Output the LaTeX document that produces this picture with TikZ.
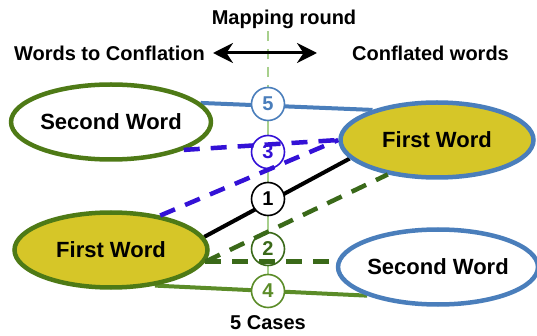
\documentclass[tikz,border=0pt]{standalone}
\usepackage{fontspec}
\setmainfont{Liberation Sans}
\usetikzlibrary{shapes.geometric,arrows.meta,backgrounds}
\definecolor{wgreen}{RGB}{78,122,22}
\definecolor{wblue}{RGB}{74,126,187}
\definecolor{wyellow}{RGB}{214,198,40}
\definecolor{wpurple}{RGB}{51,17,214}
\definecolor{dgreen}{RGB}{58,105,25}
\definecolor{lgreen}{RGB}{91,140,40}
\definecolor{vgreen}{RGB}{168,208,141}

\begin{document}
\begin{tikzpicture}[x=1pt,y=-1pt,
   word/.style={ellipse,line width=4.5pt,minimum width=193pt,minimum height=75pt,inner sep=0pt,font=\fontsize{22}{24}\selectfont\bfseries},
   case/.style={circle,draw=#1,text=#1,fill=white,line width=1.6pt,minimum size=33pt,inner sep=0pt,font=\fontsize{20}{22}\selectfont\bfseries},
   head/.style={inner sep=0pt,font=\fontsize{20}{22}\selectfont\bfseries},
   link/.style={line width=4pt},
   dlink/.style={line width=4.5pt,dash pattern=on 16pt off 11pt}]
   \useasboundingbox (0,0) rectangle (537,336);

   \node[head] (map) at (284,19) {Mapping round};
   \node[head,anchor=east] (wtc) at (205,53) {Words to Conflation};
   \node[head,anchor=west] (cw) at (352,53) {Conflated words};
   \coordinate (al) at (213,53);
   \coordinate (ar) at (317,53);
   \draw[{Stealth[length=20pt,width=20pt]}-{Stealth[length=20pt,width=20pt]},line width=3pt] (al) -- (ar);

   \node[word,draw=wgreen,fill=white] (lsec) at (111,122) {Second Word};
   \node[word,draw=wgreen,fill=wyellow] (lfir) at (111,250) {First Word};
   \node[word,draw=wblue,fill=wyellow] (rfir) at (437,140) {First Word};
   \node[word,draw=wblue,fill=white] (rsec) at (438,267) {Second Word};

   \node[case=wblue] (c5) at (268,104) {5};
   \node[case=wpurple] (c3) at (268,152) {3};
   \node[case=black] (c1) at (268,199) {1};
   \node[case=dgreen] (c2) at (268,249) {2};
   \node[case=lgreen] (c4) at (268,291) {4};
   \node[head] (cases) at (268,323) {5 Cases};

   \coordinate (vtop) at (268,31);
   \begin{scope}[on background layer]
     \draw[vgreen,line width=2.5pt,dash pattern=on 10pt off 8pt] (vtop) -- (c5);
     \draw[vgreen,line width=1.5pt] (c5) -- (c4);
     \draw[link,wblue] (lsec.12) -- (rfir.155);
     \draw[link,black] (lfir.8) -- (rfir.192);
     \draw[link,lgreen] (lfir.-39) -- (rsec.202);
   \end{scope}

   \draw[dlink,wpurple] (lsec.-21) -- (rfir.west);
   \draw[dlink,wpurple] (lfir.35) -- (rfir.west);
   \draw[dlink,dgreen] (lfir.-7) -- (lfir.-7 -| rsec.west);
   \draw[dlink,dgreen] (lfir.-7) -- (rfir.215);
 \end{tikzpicture}
\end{document}
